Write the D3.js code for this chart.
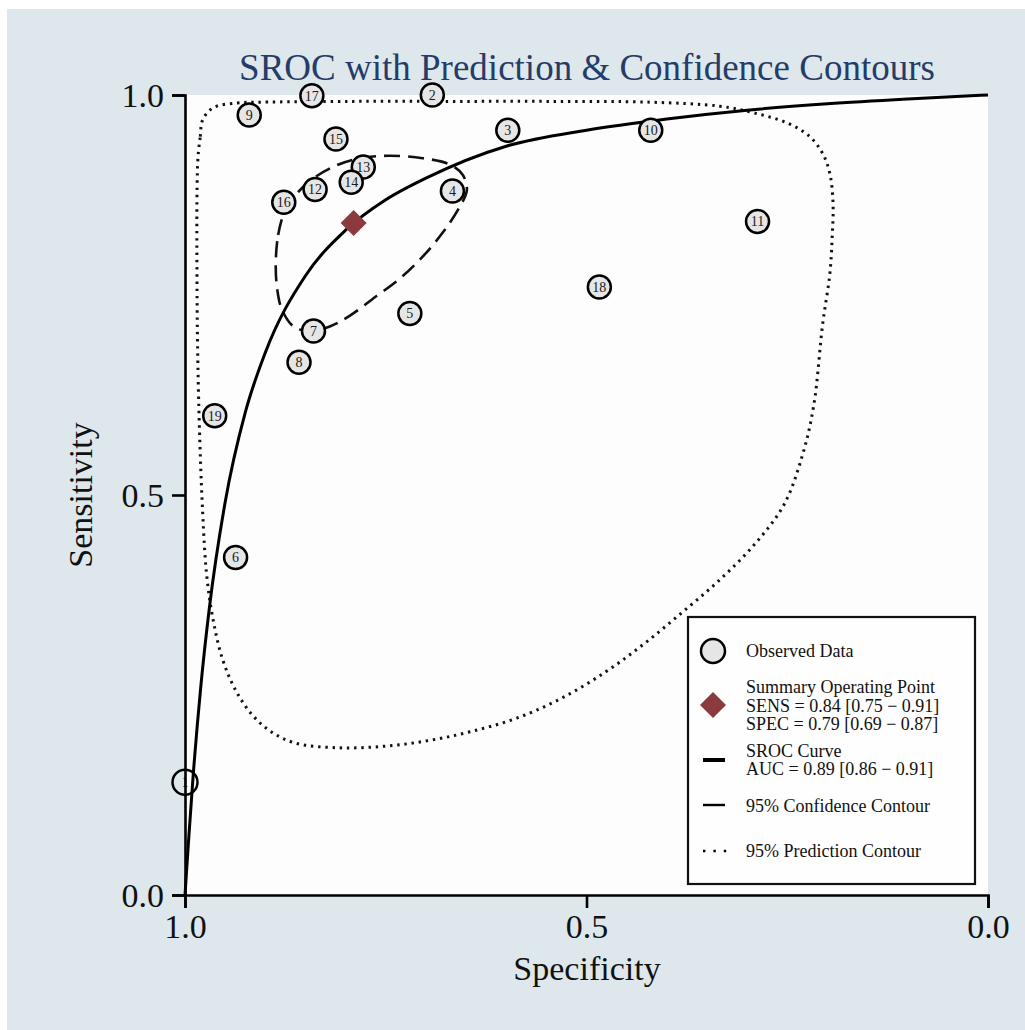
<!DOCTYPE html>
<html><head><meta charset="utf-8">
<script src="https://cdn.jsdelivr.net/npm/d3@7"></script>
<style>body{margin:0;background:#fff;} svg{display:block;} text{font-family:"Liberation Serif","Times New Roman",serif;}</style>
</head><body>
<svg id="chart" width="1025" height="1030"></svg>
<script>
// ---- data (specificity, sensitivity) ----
const studyIds   = [1,2,3,4,5,6,7,8,9,10,11,12,13,14,15,16,17,18,19];
const studySpec  = [1.000,0.692,0.598,0.667,0.720,0.937,0.840,0.858,0.920,0.420,0.287,0.838,0.778,0.793,0.812,0.877,0.842,0.484,0.963];
const studySens  = [0.141,1.000,0.956,0.880,0.727,0.422,0.705,0.666,0.975,0.956,0.842,0.882,0.910,0.891,0.945,0.866,0.999,0.760,0.599];

const summarySpec = 0.79, summarySens = 0.84;

const srocSpec = [1.000,0.999,0.998,0.995,0.990,0.980,0.970,0.950,0.925,0.900,0.850,0.800,0.750,0.700,0.600,0.500,0.400,0.300,0.200,0.100,0.000];
const srocSens = [0.000,0.015,0.031,0.076,0.147,0.264,0.356,0.491,0.603,0.678,0.774,0.831,0.869,0.896,0.936,0.956,0.970,0.981,0.989,0.995,1.000];

const confSpec = [0.887,0.884,0.876,0.863,0.844,0.816,0.786,0.748,0.704,0.670,0.654,0.649,0.658,0.679,0.704,0.732,0.761,0.795,0.819,0.844,0.864,0.879,0.885];
const confSens = [0.788,0.825,0.854,0.874,0.893,0.910,0.920,0.924,0.921,0.913,0.900,0.881,0.860,0.828,0.798,0.771,0.749,0.724,0.711,0.705,0.710,0.731,0.756];

const predSpec = [0.984,0.981,0.978,0.965,0.935,0.907,0.795,0.670,0.546,0.421,0.334,0.293,0.250,0.222,0.206,0.197,0.193,0.194,0.197,0.206,0.217,0.231,0.254,0.291,0.334,0.380,0.427,0.476,0.531,0.587,0.645,0.697,0.751,0.808,0.863,0.894,0.917,0.937,0.953,0.965,0.973,0.978,0.983,0.985];
const predSens = [0.919,0.948,0.969,0.984,0.990,0.991,0.992,0.992,0.992,0.991,0.986,0.978,0.965,0.948,0.927,0.902,0.865,0.823,0.776,0.713,0.612,0.550,0.488,0.438,0.394,0.354,0.315,0.279,0.246,0.221,0.204,0.193,0.186,0.184,0.190,0.205,0.226,0.256,0.294,0.344,0.400,0.478,0.619,0.756];

const xTicks = [1.0,0.5,0.0];
const yTicks = [0.0,0.5,1.0];
const titleText = "SROC with Prediction & Confidence Contours";
const xLabel = "Specificity", yLabel = "Sensitivity";
const legendLines = [
  ["Observed Data"],
  ["Summary Operating Point","SENS = 0.84 [0.75 \u2212 0.91]","SPEC = 0.79 [0.69 \u2212 0.87]"],
  ["SROC Curve","AUC = 0.89 [0.86 \u2212 0.91]"],
  ["95% Confidence Contour"],
  ["95% Prediction Contour"]
];

// ---- drawing ----
const svg = d3.select("#chart");
const x = d3.scaleLinear().domain([1,0]).range([185,988]);
const y = d3.scaleLinear().domain([0,1]).range([895,95]);

svg.append("rect").attr("x",7).attr("y",9).attr("width",1018).attr("height",1021).attr("fill","#dee8ec");
svg.append("rect").attr("x",x(1)).attr("y",y(1)).attr("width",x(0)-x(1)).attr("height",y(0)-y(1)).attr("fill","#fdfdfe");

svg.append("text").attr("x",587).attr("y",80).attr("text-anchor","middle")
  .attr("font-size",37).attr("fill","#263c68").text(titleText);

const g = svg.append("g");

// prediction contour (dotted)
const pred = predSpec.map((s,i)=>[x(s),y(predSens[i])]);
g.append("path").attr("d",d3.line().curve(d3.curveCatmullRomClosed.alpha(0.5))(pred))
  .attr("fill","none").attr("stroke","#111").attr("stroke-width",3).attr("stroke-dasharray","2.4 4.8");

// confidence contour (dashed)
const conf = confSpec.map((s,i)=>[x(s),y(confSens[i])]);
g.append("path").attr("d",d3.line().curve(d3.curveCatmullRomClosed.alpha(0.5))(conf))
  .attr("fill","none").attr("stroke","#111").attr("stroke-width",2.6).attr("stroke-dasharray","16 8");

// SROC curve
const sroc = srocSpec.map((s,i)=>[x(s),y(srocSens[i])]);
g.append("path").attr("d",d3.line().curve(d3.curveMonotoneX)(sroc))
  .attr("fill","none").attr("stroke","#000").attr("stroke-width",3);

// study points
studyIds.forEach((id,i)=>{
  const cx = x(studySpec[i]), cy = y(studySens[i]);
  g.append("circle").attr("cx",cx).attr("cy",cy).attr("r", studySpec[i]>=1?12.5:11.5)
    .attr("fill", studySpec[i]>=1?"none":"#e6e6e6").attr("stroke","#000").attr("stroke-width",2.5);
  g.append("text").attr("x",cx).attr("y",cy+4.8).attr("text-anchor","middle")
    .attr("font-size",14).attr("fill","#1a1a1a").text(id);
});

// summary diamond
const ds = 13;
g.append("path").attr("d",`M${x(summarySpec)},${y(summarySens)-ds}L${x(summarySpec)+ds},${y(summarySens)}L${x(summarySpec)},${y(summarySens)+ds}L${x(summarySpec)-ds},${y(summarySens)}Z`)
  .attr("fill","#8b3a3e");

// axes
const xAxis = d3.axisBottom(x).tickValues(xTicks).tickFormat(d3.format(".1f")).tickSize(13).tickPadding(6);
const yAxis = d3.axisLeft(y).tickValues(yTicks).tickFormat(d3.format(".1f")).tickSize(13).tickPadding(8);
const gx = svg.append("g").attr("transform",`translate(0,${y(0)})`).call(xAxis);
const gy = svg.append("g").attr("transform",`translate(${x(1)},0)`).call(yAxis);
[gx,gy].forEach(a=>{
  a.selectAll("path.domain").attr("stroke","#000").attr("stroke-width",2.6);
  a.selectAll("line").attr("stroke","#000").attr("stroke-width",2.6);
  a.selectAll("text").attr("font-size",34).attr("fill","#111").attr("font-family","Liberation Serif, serif");
});
gy.selectAll("text").attr("dy","0.35em");

svg.append("text").attr("x",587).attr("y",980).attr("text-anchor","middle").attr("font-size",34).attr("fill","#111").text(xLabel);
svg.append("text").attr("transform","translate(92,495) rotate(-90)").attr("text-anchor","middle").attr("font-size",34).attr("fill","#111").text(yLabel);

// legend
const L = svg.append("g");
L.append("rect").attr("x",688).attr("y",617).attr("width",287).attr("height",267).attr("fill","#fefefe").attr("stroke","#111").attr("stroke-width",2.2);
const tx = 746;
L.append("circle").attr("cx",713).attr("cy",651).attr("r",12).attr("fill","#e6e6e6").attr("stroke","#000").attr("stroke-width",2.5);
L.append("path").attr("d","M713,692L726,705L713,718L700,705Z").attr("fill","#8b3a3e");
L.append("line").attr("x1",703).attr("x2",725).attr("y1",760).attr("y2",760).attr("stroke","#000").attr("stroke-width",4);
L.append("line").attr("x1",703).attr("x2",725).attr("y1",805).attr("y2",805).attr("stroke","#000").attr("stroke-width",2.4);
L.append("line").attr("x1",703).attr("x2",727).attr("y1",851).attr("y2",851).attr("stroke","#000").attr("stroke-width",2.6).attr("stroke-dasharray","2.4 8");
const baselines = [[657],[693,711.5,729.5],[757,775],[811.5],[857]];
legendLines.forEach((lines,i)=>{
  lines.forEach((t,j)=>{
    L.append("text").attr("x",tx).attr("y",baselines[i][j]).attr("font-size",18).attr("fill","#111").text(t);
  });
});
</script>
</body></html>
